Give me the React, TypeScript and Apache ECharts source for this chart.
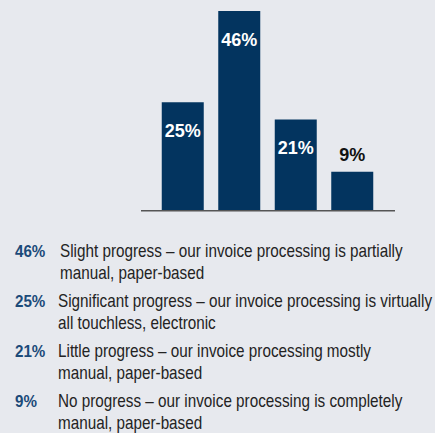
import React, { useEffect, useRef } from "react";
import * as echarts from "echarts";

const categories = ["Significant progress", "Slight progress", "Little progress", "No progress"];
const values = [25, 46, 21, 9];

const legendPercents = ["46%", "25%", "21%", "9%"];
const legendTexts = [
  "Slight progress – our invoice processing is partially\nmanual, paper-based",
  "Significant progress – our invoice processing is virtually\nall touchless, electronic",
  "Little progress – our invoice processing mostly\nmanual, paper-based",
  "No progress – our invoice processing is completely\nmanual, paper-based",
];

const FONT = "'Liberation Sans', Arial, sans-serif";
const BAR = "#03345f";

export default function App() {
  const ref = useRef<HTMLDivElement>(null);
  useEffect(() => {
    const chart = echarts.init(ref.current!, null, { renderer: "svg" });
    const cv = document.createElement("canvas").getContext("2d")!;
    cv.font = `17.5px ${FONT}`;
    const w = cv.measureText("Slight progress – our invoice processing is partially").width;
    const sx = w > 0 ? 343 / w : 0.8;
    const legendGraphics: any[] = [];
    legendPercents.forEach((p, i) => {
      const y = 251 + i * 50;
      legendGraphics.push({
        type: "text",
        x: 15,
        y: y - 11,
        scaleX: 0.92,
        style: { text: p, font: `bold 16.5px ${FONT}`, fill: "#1b4a79", lineHeight: 22, verticalAlign: "top" },
      });
      legendGraphics.push({
        type: "text",
        x: i === 0 ? 60 : 58,
        y: y - 11,
        scaleX: sx,
        style: { text: legendTexts[i], font: `17.5px ${FONT}`, fill: "#232323", lineHeight: 22, verticalAlign: "top" },
      });
    });
    chart.setOption({
      animation: false,
      backgroundColor: "#e7e9ee",
      grid: { left: 154.5, width: 226, top: 11, bottom: 222.3 },
      xAxis: {
        type: "category",
        data: categories,
        axisLine: { show: false },
        axisTick: { show: false },
        axisLabel: { show: false },
      },
      yAxis: {
        type: "value",
        min: 0,
        max: 46,
        show: false,
        splitLine: { show: false },
      },
      series: [
        {
          type: "bar",
          barWidth: 42,
          data: values.map((v) => ({
            value: v,
            label:
              v < 15
                ? { position: "top", distance: 8, color: "#111111" }
                : { position: "insideTop", distance: 19.5, color: "#ffffff" },
          })),
          itemStyle: { color: BAR },
          label: {
            show: true,
            formatter: "{c}%",
            fontFamily: FONT,
            fontWeight: "bold",
            fontSize: 18,
          },
        },
      ],
      graphic: [
        {
          type: "line",
          shape: { x1: 141, y1: 210.7, x2: 395, y2: 210.7 },
          style: { stroke: "#555555", lineWidth: 1.5 },
          z: 10,
        },
        ...legendGraphics,
      ],
    });
    return () => chart.dispose();
  }, []);
  return (
    <div
      ref={ref}
      style={{ position: "fixed", left: 0, top: 0, width: 435, height: 433 }}
    />
  );
}
